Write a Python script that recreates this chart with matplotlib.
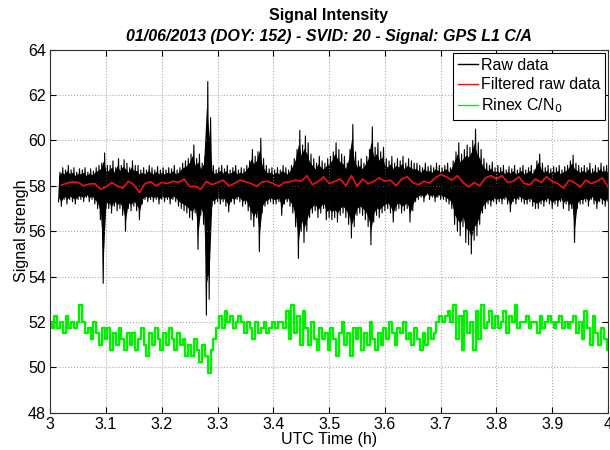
import numpy as np
import matplotlib
matplotlib.use("Agg")
import matplotlib.pyplot as plt

plt.rcParams['font.family'] = ['Liberation Sans', 'DejaVu Sans']

raw_t = np.round(np.arange(3.015, 4.0001, 0.005), 3)
raw_hi = [58.6, 58.8, 58.7, 58.9, 58.7, 58.8, 58.6, 58.75,
          58.7, 58.8, 58.6, 58.75, 58.65, 58.8, 58.9, 59.0, 59.45, 58.9,
          58.9, 59.1, 58.8, 59.2, 58.9, 59.15, 59.0, 58.8, 59.1, 58.9,
          58.9, 58.7, 58.8, 58.7, 58.9, 58.8, 58.7, 58.85, 58.7, 58.8,
          58.7, 58.8, 58.75, 58.9, 58.7, 58.8, 59.0, 59.1, 59.2, 59.4,
          59.8, 59.2, 59.4, 59.0, 59.3, 62.6, 61.0, 58.9, 58.7, 58.8,
          58.9, 58.75, 58.9, 58.7, 58.8, 58.9, 58.7, 58.8, 58.75, 58.9,
          59.1, 59.6, 59.3, 59.5, 60.1, 59.2, 58.9, 58.75, 58.8, 58.7,
          58.8, 58.7, 58.9, 58.8, 58.7, 58.9, 59.2, 59.6, 60.45, 59.8,
          60.2, 59.9, 59.4, 59.2, 59.0, 59.3, 59.1, 59.0, 59.2, 59.3,
          59.5, 59.9, 59.6, 59.4, 59.3, 59.0, 59.6, 60.7, 59.5, 59.1,
          59.2, 59.0, 59.3, 59.6, 60.6, 59.7, 59.9, 59.5, 59.7, 59.2,
          59.1, 59.3, 59.0, 59.2, 59.1, 59.3, 59.0, 59.2, 59.1, 59.0,
          59.0, 58.9, 58.8, 59.0, 58.85, 58.9, 58.8, 59.0, 58.9, 58.8,
          58.9, 59.0, 58.8, 59.1, 59.5, 59.9, 59.4, 59.6, 59.8, 59.7,
          60.0, 60.5, 59.9, 59.6, 59.2, 59.0, 58.9, 59.05, 58.8, 58.9,
          58.8, 58.9, 58.7, 58.85, 58.75, 58.9, 58.7, 58.8, 58.9, 58.7,
          58.8, 58.9, 58.7, 59.1, 59.4, 59.0, 58.8, 58.9, 58.75, 58.85,
          58.8, 58.9, 58.7, 58.85, 58.9, 59.1, 59.35, 59.0, 58.9, 58.8,
          58.9, 58.8, 59.0, 58.75, 58.9, 58.8, 59.0, 58.85, 58.9, 58.8]
raw_lo = [57.3, 57.1, 57.4, 57.2, 57.4, 57.3, 57.2, 57.4,
          57.4, 57.3, 57.5, 57.3, 57.4, 57.2, 57.0, 56.5, 53.7, 57.0,
          57.0, 56.8, 57.1, 56.9, 57.0, 56.7, 56.0, 57.0, 56.9, 57.1,
          56.9, 56.5, 57.2, 57.4, 57.3, 57.4, 57.3, 57.4, 57.2, 57.4,
          57.3, 57.4, 57.2, 57.4, 57.3, 57.1, 57.0, 56.9, 56.8, 56.6,
          56.5, 56.8, 55.2, 56.7, 56.3, 52.3, 53.0, 57.1, 57.2, 57.3,
          57.2, 57.3, 57.1, 56.85, 57.3, 57.2, 57.4, 57.3, 57.1, 57.2,
          56.9, 56.5, 56.2, 56.6, 55.1, 56.8, 57.1, 57.2, 57.3, 57.2,
          57.2, 57.3, 56.7, 57.2, 57.3, 57.1, 56.8, 56.2, 54.8, 56.0,
          55.5, 56.0, 56.6, 56.8, 56.9, 56.6, 56.8, 57.0, 56.5, 56.6,
          56.5, 56.6, 56.4, 56.7, 56.8, 56.6, 56.3, 55.7, 56.2, 56.7,
          56.8, 56.7, 56.5, 56.2, 55.4, 56.4, 56.7, 56.6, 56.8, 56.9,
          57.0, 56.8, 56.4, 56.9, 57.0, 56.8, 56.9, 57.0, 56.4, 56.9,
          57.3, 57.4, 57.5, 57.3, 57.6, 57.4, 57.5, 57.3, 57.5, 57.4,
          57.4, 57.3, 57.2, 57.0, 56.3, 56.0, 55.8, 56.2, 55.5, 55.4,
          55.0, 55.6, 55.8, 56.3, 56.8, 57.0, 57.2, 57.1, 57.3, 57.2,
          57.3, 57.2, 57.4, 57.2, 56.85, 57.3, 57.2, 57.4, 57.3, 57.2,
          57.2, 57.3, 57.1, 57.0, 57.0, 57.2, 57.1, 57.3, 57.2, 57.0,
          57.2, 57.1, 57.3, 57.0, 57.2, 56.9, 57.0, 55.5, 57.0, 57.2,
          57.2, 57.3, 57.1, 57.4, 57.2, 57.0, 57.3, 57.2, 57.1, 57.3]

# Filtered raw data, every 0.01 h from 3.02 to 4.00
filt_t = np.round(np.arange(3.02, 4.0001, 0.01), 2)
filt_val = [58.03, 58.12, 58.17, 58.15, 58.0, 58.08, 58.1, 57.85, 57.95, 58.15,
            58.0, 57.9, 58.2, 58.05, 57.7, 58.1, 58.18, 58.0, 58.15, 58.1,
            58.2, 58.15, 58.3, 57.97, 57.98, 57.85, 58.2, 58.05, 58.15, 58.25,
            58.0, 58.1, 58.25, 58.18, 58.1, 57.98, 58.18, 58.2, 58.1, 57.98,
            58.15, 58.18, 58.25, 58.2, 58.45, 58.05, 58.18, 58.4, 58.1, 58.2,
            58.3, 58.0, 58.45, 57.98, 58.3, 58.1, 58.2, 58.35, 58.2, 58.25,
            58.0, 58.3, 58.4, 58.15, 58.05, 58.2, 58.12, 58.35, 58.5, 58.4,
            58.25, 58.45, 58.15, 57.95, 58.15, 58.0, 58.35, 58.45, 58.3, 58.45,
            58.15, 58.2, 58.4, 58.1, 58.05, 58.3, 58.15, 58.4, 58.2, 58.1,
            57.9, 58.25, 58.15, 57.95, 58.25, 58.1, 58.2, 58.35, 57.95]

# Rinex C/N0, every 0.005 h from 3.000 to 4.000
cn0_t = np.round(np.arange(3.0, 4.0001, 0.005), 3)
cn0_val = [52.0, 51.75, 52.25, 51.75, 52.0, 51.5, 52.25, 51.75, 52.0, 51.75,
           52.0, 52.75, 52.0, 51.5, 51.75, 51.25, 52.0, 51.5, 51.0, 51.75,
           51.25, 51.75, 50.75, 51.5, 51.0, 51.75, 51.25, 50.75, 51.5, 51.0,
           51.5, 50.75, 51.25, 51.75, 51.0, 50.5, 51.5, 51.0, 51.75, 51.25,
           50.75, 51.5, 51.0, 51.75, 51.25, 50.75, 51.5, 51.0, 51.25, 50.5,
           51.0, 50.5, 51.25, 50.75, 50.25, 51.0, 50.5, 49.75, 50.75, 51.25,
           51.75, 52.25, 51.75, 52.5, 52.0, 52.25, 51.75, 52.0, 52.25, 52.0,
           51.5, 52.0, 51.75, 51.25, 52.0, 51.5, 51.75, 52.0, 51.5, 51.75,
           52.0, 51.75, 52.0, 52.0, 51.75, 52.5, 51.25, 52.75, 51.5, 52.25,
           51.0, 52.5, 51.75, 51.0, 52.0, 51.25, 50.75, 51.75, 51.25, 51.5,
           50.75, 51.75, 51.25, 50.5, 51.5, 52.0, 51.0, 51.5, 50.5, 51.75,
           51.25, 51.75, 50.75, 51.5, 51.0, 52.0, 51.25, 50.75, 51.5, 51.0,
           51.75, 51.25, 52.0, 51.5, 51.0, 51.75, 51.5, 52.0, 51.25, 51.5,
           51.0, 51.75, 51.25, 50.75, 51.5, 51.0, 51.75, 51.25, 51.5, 52.0,
           52.25, 52.0, 52.25, 52.5, 52.0, 52.75, 51.25, 52.25, 50.75, 52.5,
           51.5, 52.0, 50.75, 52.5, 51.25, 52.75, 51.75, 52.0, 52.5, 51.75,
           52.25, 51.75, 52.0, 52.5, 51.5, 52.25, 52.0, 52.75, 51.75, 52.0,
           52.0, 52.25, 51.75, 52.0, 52.0, 51.5, 52.25, 51.75, 52.0, 52.25,
           52.0, 51.75, 52.0, 52.25, 51.75, 52.0, 51.75, 52.0, 52.25, 51.5,
           52.0, 51.25, 52.5, 51.75, 51.0, 52.25, 51.5, 51.0, 51.75, 51.25,
           50.75]

x_ticks = [3.0, 3.1, 3.2, 3.3, 3.4, 3.5, 3.6, 3.7, 3.8, 3.9, 4.0]
x_labels = ['3', '3.1', '3.2', '3.3', '3.4', '3.5', '3.6', '3.7', '3.8', '3.9', '4']
y_ticks = [48, 50, 52, 54, 56, 58, 60, 62, 64]

fig = plt.figure(figsize=(6.1, 4.5), dpi=100)
ax = fig.add_axes([50.2 / 610, 1 - 412.7 / 450, 557.8 / 610, 363.0 / 450])

# raw samples: dense inner core, thin swings out to the envelope
hi = np.array(raw_hi)
lo = np.array(raw_lo)
ax.fill_between(raw_t, 58.0 - 0.75 * (58.0 - lo), 58.0 + 0.75 * (hi - 58.0),
                color='black', lw=0)
raw_x = np.column_stack([raw_t, raw_t + 0.0025]).ravel()
raw_y = np.column_stack([lo, hi]).ravel()
ax.plot(raw_x, raw_y, color='black', lw=0.8, label='Raw data')
ax.plot(filt_t, filt_val, color='#ee1111', lw=1.2, label='Filtered raw data')
ax.plot(cn0_t, cn0_val, color='#00f000', lw=1.7, drawstyle='steps-mid',
        label='Rinex C/N$_0$')

ax.set_xlim(3, 4)
ax.set_ylim(48, 64)
ax.set_xticks(x_ticks)
ax.set_xticklabels(x_labels)
ax.set_yticks(y_ticks)
ax.tick_params(direction='in', top=True, right=True, length=4, labelsize=11.5, pad=3)
ax.grid(True, ls=':', color='#aaaaaa', lw=0.8)
for sp in ax.spines.values():
    sp.set_color('#333333')
    sp.set_linewidth(0.8)

ax.set_xlabel('UTC Time (h)', fontsize=11.5, labelpad=0)
ax.set_ylabel('Signal strengh', fontsize=11.5, labelpad=-0.5)
fig.text(0.539, 0.965, 'Signal Intensity', ha='center', va='center',
         fontsize=11.5, fontweight='bold')
fig.text(0.539, 0.918, '01/06/2013 (DOY: 152) - SVID: 20 - Signal: GPS L1 C/A',
         ha='center', va='center', fontsize=11.5, fontweight='bold', style='italic')

leg = ax.legend(loc='upper right', fontsize=11.5, handlelength=1.25, handletextpad=0.15,
                borderpad=0.3, labelspacing=0.28, borderaxespad=0.2,
                fancybox=False, framealpha=1)
leg.get_frame().set_edgecolor('black')
leg.get_frame().set_linewidth(0.8)
for line in leg.get_lines():
    line.set_linewidth(1.0)

fig.savefig('out.png', dpi=100)
